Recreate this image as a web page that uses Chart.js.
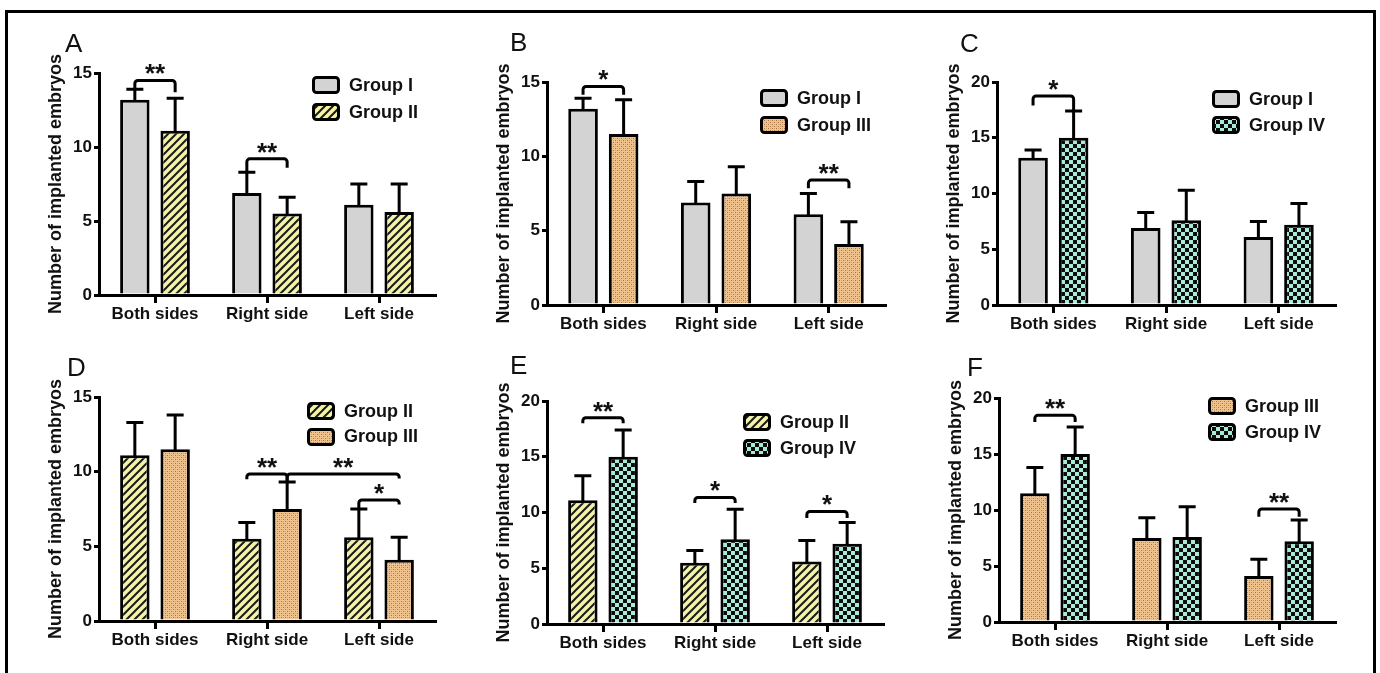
<!DOCTYPE html>
<html><head><meta charset="utf-8">
<script src="https://cdn.jsdelivr.net/npm/chart.js@4.4.1/dist/chart.umd.min.js"></script>
<style>
html,body{margin:0;padding:0;background:#fff;}
body{width:1380px;height:673px;position:relative;overflow:hidden;font-family:'Liberation Sans',Arial,sans-serif;}
.frame{position:absolute;left:5px;top:10px;width:1365px;height:680px;border:3px solid #000;border-bottom:none;}
.letter{position:absolute;font-size:26px;line-height:26px;color:#111;}
.legend{position:absolute;}
.row{display:flex;align-items:center;height:26px;font-weight:bold;font-size:18px;color:#111;white-space:nowrap;}
.row canvas{margin-right:9px;display:block;}
canvas.chart{position:absolute;}
</style></head><body>
<div class="frame"></div>
<script>
// ---------- data ----------
const categories = ['Both sides', 'Right side', 'Left side'];
const groupLabels = ['Group I', 'Group II', 'Group III', 'Group IV'];
const groupIMean = [13.2, 6.9, 6.1];
const groupISD = [0.7, 1.4, 1.4];
const groupIIMean = [11.1, 5.5, 5.6];
const groupIISD = [2.2, 1.1, 1.9];
const groupIIIMean = [11.5, 7.5, 4.1];
const groupIIISD = [2.3, 1.8, 1.5];
const groupIVMean = [15.0, 7.6, 7.2];
const groupIVSD = [2.4, 2.7, 1.9];
const yTicks15 = [0, 5, 10, 15];
const yTicks20 = [0, 5, 10, 15, 20];
const yTitle = 'Number of implanted embryos';

const means = [groupIMean, groupIIMean, groupIIIMean, groupIVMean];
const sds = [groupISD, groupIISD, groupIIISD, groupIVSD];
const fills = ['gray', 'stripes', 'dots', 'checker'];

// ---------- panels (layout + significance brackets) ----------
// bracket: a/b = [datasetIndex, categoryIndex], level & leg ends in y-units
const panels = [
  {letter:'A', groups:[0,1], L:99, R:435, T:73, B:295, ticks:yTicks15, letterPos:[65,29.5], legendPos:[312,77], rowH:27,
   brackets:[{a:[0,0], b:[1,0], level:14.5, ea:13.9, eb:13.7, text:'**'},
             {a:[0,1], b:[1,1], level:9.2, ea:8.3, eb:8.6, text:'**'}]},
  {letter:'B', groups:[0,2], L:547, R:885, T:82, B:305, ticks:yTicks15, letterPos:[510,28.5], legendPos:[760,90], rowH:27,
   brackets:[{a:[0,0], b:[1,0], level:14.7, ea:14.15, eb:14.15, text:'*'},
             {a:[0,2], b:[1,2], level:8.4, ea:7.85, eb:7.85, text:'**'}]},
  {letter:'C', groups:[0,3], L:997, R:1335, T:82, B:305, ticks:yTicks20, letterPos:[960,29.5], legendPos:[1212,91], rowH:26,
   brackets:[{a:[0,0], b:[1,0], level:18.75, ea:17.9, eb:17.4, text:'*'}]},
  {letter:'D', groups:[1,2], L:99, R:435, T:397, B:621, ticks:yTicks15, letterPos:[67,353.5], legendPos:[307,403], rowH:25.5,
   brackets:[{a:[0,1], b:[1,1], level:9.85, ea:9.5, eb:9.3, text:'**'},
             {a:[1,1], b:[1,2], level:9.85, ea:9.3, eb:9.55, text:'**'},
             {a:[0,2], b:[1,2], level:8.1, ea:7.5, eb:7.8, text:'*'}]},
  {letter:'E', groups:[1,3], L:547, R:883, T:401, B:624, ticks:yTicks20, letterPos:[510,351.5], legendPos:[743,414], rowH:26,
   brackets:[{a:[0,0], b:[1,0], level:18.5, ea:18.0, eb:18.0, text:'**'},
             {a:[0,1], b:[1,1], level:11.35, ea:10.85, eb:10.85, text:'*'},
             {a:[0,2], b:[1,2], level:10.1, ea:9.5, eb:9.5, text:'*'}]},
  {letter:'F', groups:[2,3], L:999, R:1335, T:398, B:622, ticks:yTicks20, letterPos:[967,353.5], legendPos:[1208,398], rowH:26,
   brackets:[{a:[0,0], b:[1,0], level:18.45, ea:17.85, eb:17.85, text:'**'},
             {a:[0,2], b:[1,2], level:10.1, ea:9.4, eb:9.4, text:'**'}]}
];

const FONT = "'Liberation Sans', Arial, sans-serif";
const INK = '#111';

// ---------- fill patterns ----------
function makeTile(kind) {
  const c = document.createElement('canvas');
  let g;
  if (kind === 'stripes') {
    c.width = c.height = 8; g = c.getContext('2d');
    g.fillStyle = '#f4f4a6'; g.fillRect(0, 0, 8, 8);
    g.strokeStyle = '#1a1a1a'; g.lineWidth = 2;
    g.beginPath();
    g.moveTo(-1, 9); g.lineTo(9, -1);
    g.moveTo(-5, 5); g.lineTo(5, -5);
    g.moveTo(3, 13); g.lineTo(13, 3);
    g.stroke();
  } else if (kind === 'dots') {
    c.width = c.height = 4; g = c.getContext('2d');
    g.fillStyle = '#efc28e'; g.fillRect(0, 0, 4, 4);
    g.fillStyle = '#a87444'; g.fillRect(0, 0, 1, 1); g.fillRect(2, 2, 1, 1);
    g.fillStyle = '#d6a46e'; g.fillRect(2, 0, 1, 1); g.fillRect(0, 2, 1, 1);
  } else if (kind === 'checker') {
    c.width = c.height = 8; g = c.getContext('2d');
    g.fillStyle = '#a9ebd8'; g.fillRect(0, 0, 8, 8);
    g.fillStyle = '#0d0d0d'; g.fillRect(0, 0, 4, 4); g.fillRect(4, 4, 4, 4);
  } else {
    return null;
  }
  return c;
}
function fillFor(ctx, kind) {
  if (kind === 'gray') return '#d3d3d3';
  return ctx.createPattern(makeTile(kind), 'repeat');
}

// ---------- annotation plugin (error bars + brackets) ----------
const annotPlugin = {
  id: 'annot',
  afterDatasetsDraw(chart) {
    const p = chart.options.plugins.annot.panel;
    const ctx = chart.ctx, ys = chart.scales.y;
    ctx.save();
    ctx.strokeStyle = '#000';
    ctx.lineWidth = 3;
    // error bars (upper only)
    p.groups.forEach((gi, di) => {
      const meta = chart.getDatasetMeta(di);
      meta.data.forEach((bar, ci) => {
        const top = ys.getPixelForValue(means[gi][ci] + sds[gi][ci]);
        ctx.beginPath();
        ctx.moveTo(bar.x, bar.y + 2);
        ctx.lineTo(bar.x, top);
        ctx.moveTo(bar.x - 8.5, top);
        ctx.lineTo(bar.x + 8.5, top);
        ctx.stroke();
      });
    });
    // brackets
    ctx.lineJoin = 'round';
    p.brackets.forEach(br => {
      const xa = chart.getDatasetMeta(br.a[0]).data[br.a[1]].x;
      const xb = chart.getDatasetMeta(br.b[0]).data[br.b[1]].x;
      const yl = ys.getPixelForValue(br.level);
      const ya = ys.getPixelForValue(br.ea);
      const yb = ys.getPixelForValue(br.eb);
      ctx.beginPath();
      ctx.moveTo(xa, ya);
      ctx.arcTo(xa, yl, xb, yl, 3);
      ctx.arcTo(xb, yl, xb, yb, 3);
      ctx.lineTo(xb, yb);
      ctx.stroke();
      ctx.fillStyle = INK;
      ctx.font = 'bold 26px ' + FONT;
      ctx.textAlign = 'center';
      ctx.textBaseline = 'alphabetic';
      ctx.fillText(br.text, (xa + xb) / 2, yl + 2);
    });
    ctx.restore();
  }
};

// ---------- build panels ----------
const PADL = 60, PADT = 50, PADR = 10, PADB = 40;
panels.forEach(p => {
  const cv = document.createElement('canvas');
  cv.className = 'chart';
  const w = p.R - p.L + PADL + PADR, h = p.B - p.T + PADT + PADB;
  cv.width = w; cv.height = h;
  cv.style.left = (p.L - PADL) + 'px';
  cv.style.top = (p.T - PADT) + 'px';
  cv.style.width = w + 'px'; cv.style.height = h + 'px';
  document.body.appendChild(cv);
  const ctx = cv.getContext('2d');

  const datasets = p.groups.map(gi => ({
    label: groupLabels[gi],
    data: means[gi],
    backgroundColor: fillFor(ctx, fills[gi]),
    borderColor: '#000',
    borderWidth: 3,
    barPercentage: 0.73,
    categoryPercentage: 0.72
  }));
  const ymax = p.ticks[p.ticks.length - 1];

  new Chart(ctx, {
    type: 'bar',
    data: { labels: categories, datasets },
    options: {
      responsive: false,
      animation: false,
      devicePixelRatio: 1,
      layout: { padding: { top: PADT, right: PADR, left: 0, bottom: 0 } },
      plugins: { legend: { display: false }, tooltip: { enabled: false }, annot: { panel: p } },
      scales: {
        x: {
          type: 'category',
          grid: { display: true, drawOnChartArea: false, drawTicks: true, tickLength: 8, offset: false, color: '#000', lineWidth: 3 },
          border: { display: true, color: '#000', width: 3 },
          ticks: { color: INK, font: { family: FONT, size: 17, weight: 'bold' }, padding: 1, maxRotation: 0 },
          afterFit: s => { s.height = PADB; }
        },
        y: {
          min: 0, max: ymax,
          afterBuildTicks: s => { s.ticks = p.ticks.map(v => ({ value: v })); },
          grid: { display: true, drawOnChartArea: false, drawTicks: true, tickLength: 5, color: '#000', lineWidth: 3 },
          border: { display: true, color: '#000', width: 3 },
          ticks: { color: INK, font: { family: FONT, size: 17, weight: 'bold' }, padding: 2 },
          title: { display: true, text: yTitle, color: INK, font: { family: FONT, size: 18, weight: 'bold' }, padding: { top: 6, bottom: 0 } },
          afterFit: s => { s.width = PADL; }
        }
      }
    },
    plugins: [annotPlugin]
  });

  // panel letter
  const lt = document.createElement('div');
  lt.className = 'letter';
  lt.textContent = p.letter;
  lt.style.left = p.letterPos[0] + 'px';
  lt.style.top = p.letterPos[1] + 'px';
  document.body.appendChild(lt);

  // legend
  const lg = document.createElement('div');
  lg.className = 'legend';
  lg.style.left = p.legendPos[0] + 'px';
  lg.style.top = (p.legendPos[1] + 8 - p.rowH / 2) + 'px';
  p.groups.forEach(gi => {
    const row = document.createElement('div');
    row.className = 'row';
    row.style.height = p.rowH + 'px';
    const sw = document.createElement('canvas');
    sw.width = 28; sw.height = 18;
    const sg = sw.getContext('2d');
    sg.fillStyle = fillFor(sg, fills[gi]);
    sg.strokeStyle = '#000'; sg.lineWidth = 3;
    sg.beginPath();
    sg.roundRect(1.5, 1.5, 25, 15, 3);
    sg.fill(); sg.stroke();
    row.appendChild(sw);
    const tx = document.createElement('span');
    tx.textContent = groupLabels[gi];
    row.appendChild(tx);
    lg.appendChild(row);
  });
  document.body.appendChild(lg);
});
</script>
</body></html>
